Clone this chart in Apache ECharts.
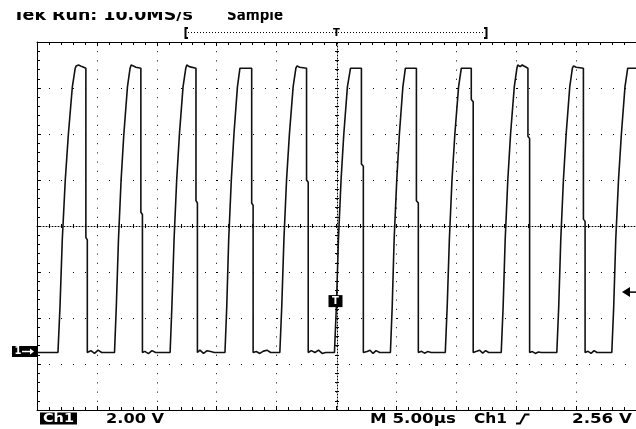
<!DOCTYPE html>
<html><head><meta charset="utf-8">
<script src="https://cdn.jsdelivr.net/npm/echarts/dist/echarts.min.js"></script>
<style>html,body{margin:0;padding:0;background:#fff}#c{width:636px;height:429px}</style>
</head><body><div id="c"></div><script>
// ---- data (time in µs, Ch1 in volts) ----
const timeUs = [
 -25, -23.25, -23.08, -22.89, -22.64, -22.38, -22.05, -21.81, -21.73, -21.53, -21.25, -21.11, -20.92, -20.92, -20.8, -20.8, -20.5, -20.2, -19.9, -19.6, -18.53,
 -18.38, -18.2, -17.98, -17.75, -17.45, -17.23, -17.14, -16.96, -16.75, -16.33, -16.33, -16.2, -16.2, -16.0, -15.7, -15.4, -15.1, -13.89,
 -13.74, -13.56, -13.34, -13.11, -12.81, -12.58, -12.5, -12.29, -12.17, -11.73, -11.73, -11.61, -11.61, -11.4, -11.1, -10.8, -10.5, -10.2, -9.31,
 -9.16, -9.0, -8.78, -8.56, -8.27, -8.06, -7.96, -7.08, -7.08, -6.96, -6.96, -6.7, -6.4, -6.1, -5.8, -5.5, -4.73,
 -4.57, -4.39, -4.17, -3.93, -3.62, -3.39, -3.29, -3.08, -2.92, -2.5, -2.5, -2.36, -2.36, -2.1, -1.8, -1.5, -1.2, -0.9, -0.17,
 -0.01, 0.16, 0.38, 0.61, 0.91, 1.17, 2.08, 2.08, 2.24, 2.24, 2.55, 2.8, 3.05, 3.3, 3.6, 4.5,
 4.65, 4.81, 5.03, 5.25, 5.54, 5.75, 6.67, 6.67, 6.83, 6.83, 7.1, 7.35, 7.6, 7.9, 9.08,
 9.24, 9.42, 9.64, 9.88, 10.19, 10.42, 11.25, 11.25, 11.41, 11.41, 11.7, 11.95, 12.2, 12.45, 12.7, 13.75,
 13.91, 14.08, 14.3, 14.53, 14.84, 15.06, 15.13, 15.33, 15.5, 15.98, 15.98, 16.12, 16.12, 16.35, 16.6, 16.85, 17.1, 18.39,
 18.55, 18.72, 18.94, 19.17, 19.47, 19.69, 19.79, 20.0, 20.61, 20.61, 20.75, 20.75, 21.0, 21.25, 21.5, 21.75, 22.98,
 23.14, 23.31, 23.54, 23.78, 24.08, 24.31, 25
];
const volts = [
 0, 0, 2.0, 4.9, 7.5, 9.5, 11.55, 12.36, 12.46, 12.5, 12.43, 12.36, 12.36, 5.0, 4.9, 0, 0.08, -0.04, 0.1, 0, 0,
 2.0, 4.9, 7.5, 9.5, 11.55, 12.36, 12.5, 12.46, 12.4, 12.36, 6.1, 6.0, 0, 0.05, -0.05, 0.08, 0, 0,
 2.0, 4.9, 7.5, 9.5, 11.55, 12.36, 12.5, 12.43, 12.5, 12.36, 6.6, 6.5, 0, 0.1, -0.04, 0.08, 0.04, 0, 0,
 2.0, 4.9, 7.5, 9.5, 11.55, 12.36, 12.4, 12.36, 6.5, 6.4, 0, 0.04, -0.04, 0.06, 0.1, 0, 0,
 2.0, 4.9, 7.5, 9.5, 11.55, 12.36, 12.46, 12.4, 12.46, 12.36, 7.5, 7.4, 0, 0.08, 0, 0.1, -0.04, 0, 0,
 2.0, 4.9, 7.5, 9.5, 11.55, 12.36, 12.36, 8.2, 8.1, 0, 0.04, 0.1, -0.04, 0.08, 0, 0,
 2.0, 4.9, 7.5, 9.5, 11.55, 12.36, 12.36, 6.6, 6.5, 0, 0.05, -0.03, 0.04, 0, 0,
 2.0, 4.9, 7.5, 9.5, 11.55, 12.36, 12.36, 11.0, 10.9, 0, 0.05, 0.1, -0.03, 0.08, 0, 0,
 2.0, 4.9, 7.5, 9.5, 11.55, 12.36, 12.5, 12.43, 12.5, 12.36, 9.4, 9.3, 0, 0.04, -0.04, 0.02, 0, 0,
 2.0, 4.9, 7.5, 9.5, 11.55, 12.36, 12.46, 12.4, 12.36, 5.8, 5.7, 0, 0.05, -0.04, 0.08, 0, 0,
 2.0, 4.9, 7.5, 9.5, 11.55, 12.36, 12.36
];
const timeRange = [-25, 25];      // 5 µs/div, 10 div
const voltRange = [-2.5, 13.5];   // 2 V/div, 8 div, ground 2.75 div below centre
const divX = [-5, 5];
const divY = [-4, 4];
const triggerTime = 0;
const triggerLevel = 2.56;
const groundLevel = 0;
const headerTexts = ['Tek Run: 10.0MS/s', 'Sample'];
const footerTexts = ['Ch1', '2.00 V', 'M 5.00µs', 'Ch1', '2.56 V'];

const trace = timeUs.map((t, i) => [t, volts[i]]);

const chart = echarts.init(document.getElementById('c'), null, {renderer: 'canvas'});
const BLK = '#000';
function gratX(pos, offset, opts) {
  return Object.assign({
    type: 'value', gridIndex: 0, min: divX[0], max: divX[1], interval: 1, position: pos, offset: offset,
    axisLine: {show: true, onZero: false, lineStyle: {color: BLK, width: 1}},
    axisTick: {show: true, inside: true, length: 4, lineStyle: {color: BLK}},
    minorTick: {show: true, splitNumber: 5, length: 3, lineStyle: {color: BLK}},
    axisLabel: {show: false}, splitLine: {show: false}
  }, opts || {});
}
function gratY(pos, offset, opts) {
  return Object.assign({
    type: 'value', gridIndex: 0, min: divY[0], max: divY[1], interval: 1, position: pos, offset: offset,
    axisLine: {show: true, onZero: false, lineStyle: {color: BLK, width: 1}},
    axisTick: {show: true, inside: true, length: 4, lineStyle: {color: BLK}},
    minorTick: {show: true, splitNumber: 5, length: 3, lineStyle: {color: BLK}},
    axisLabel: {show: false}, splitLine: {show: false}
  }, opts || {});
}
const centreTicks = {
  axisTick: {show: true, inside: true, length: 2, lineStyle: {color: BLK}},
  minorTick: {show: true, splitNumber: 5, length: 2, lineStyle: {color: BLK}}
};
const option = {
  animation: false,
  backgroundColor: '#fff',
  grid: {left: 37, top: 42, width: 600, height: 368, containLabel: false},
  xAxis: [
    {type: 'value', gridIndex: 0, min: timeRange[0], max: timeRange[1], show: false},
    gratX('bottom', 0, {splitLine: {show: true, lineStyle: {color: BLK, width: 1, type: [1, 8.2]}}}),
    gratX('top', 0),
    gratX('bottom', -184, Object.assign({axisLine: {show: true, onZero: false, lineStyle: {color: BLK, width: 1, type: [1, 2]}}}, centreTicks)),
    gratX('top', -184, Object.assign({axisLine: {show: false}}, centreTicks))
  ],
  yAxis: [
    {type: 'value', gridIndex: 0, min: voltRange[0], max: voltRange[1], show: false},
    gratY('left', 0, {splitLine: {show: true, lineStyle: {color: BLK, width: 1, type: [1, 11]}}}),
    gratY('left', -300, Object.assign({axisLine: {show: true, onZero: false, lineStyle: {color: BLK, width: 1, type: [1, 2]}}}, centreTicks)),
    gratY('right', -300, Object.assign({axisLine: {show: false}}, centreTicks))
  ],
  series: [{
    type: 'line', xAxisIndex: 0, yAxisIndex: 0, data: trace, showSymbol: false, symbol: 'none',
    lineStyle: {color: '#111', width: 1.6}, z: 5, silent: true
  }]
};
chart.setOption(option);

// ---- annotations placed through the chart's own scales ----
const gnd = chart.convertToPixel({seriesIndex: 0}, [timeRange[0], groundLevel]);
const trg = chart.convertToPixel({seriesIndex: 0}, [triggerTime, triggerLevel]);
const trgR = chart.convertToPixel({seriesIndex: 0}, [timeRange[1], triggerLevel]);

const mctx = document.createElement('canvas').getContext('2d');
function sx(text, font, w) { mctx.font = font; return w / mctx.measureText(text).width; }
function txt(text, x, y, font, w, fill, z) {
  return {type: 'text', x: x, y: y, scaleX: sx(text, font, w), z: z || 100,
    style: {text: text, font: font, fill: fill || BLK, align: 'left', verticalAlign: 'middle'}};
}
const HF = 'bold 15px "DejaVu Sans"';
const FF = 'bold 14px "DejaVu Sans"';
const gy = gnd[1] - 1;
const graphics = [
  txt(headerTexts[0], 13, 16, HF, 180),
  txt(headerTexts[1], 227, 16, HF, 56),
  {type: 'rect', z: 101, shape: {x: 0, y: 0, width: 320, height: 12}, style: {fill: '#fff'}},
  // record-window bracket
  {type: 'polyline', z: 100, shape: {points: [[188, 28], [185.5, 28], [185.5, 38], [188, 38]]}, style: {stroke: BLK, lineWidth: 2, fill: null}},
  {type: 'polyline', z: 100, shape: {points: [[484, 28], [486.5, 28], [486.5, 38], [484, 38]]}, style: {stroke: BLK, lineWidth: 2, fill: null}},
  {type: 'line', z: 100, shape: {x1: 188, y1: 32.5, x2: 484, y2: 32.5}, style: {stroke: BLK, lineWidth: 1, lineDash: [1, 2]}},
  {type: 'text', z: 100, x: trg[0], y: 33, style: {text: 'T', font: 'bold 10px "DejaVu Sans"', fill: BLK, align: 'center', verticalAlign: 'middle'}},
  // ground marker "1→"
  {type: 'rect', z: 100, shape: {x: gnd[0] - 25, y: gy - 5.5, width: 25, height: 11}, style: {fill: BLK}},
  {type: 'text', z: 105, x: gnd[0] - 22.5, y: gy, style: {text: '1', font: 'bold 10px "DejaVu Sans"', fill: '#fff', align: 'left', verticalAlign: 'middle'}},
  {type: 'line', z: 105, shape: {x1: gnd[0] - 15, y1: gy, x2: gnd[0] - 6, y2: gy}, style: {stroke: '#fff', lineWidth: 1.5}},
  {type: 'polygon', z: 105, shape: {points: [[gnd[0] - 3, gy], [gnd[0] - 7, gy - 3], [gnd[0] - 7, gy + 3]]}, style: {fill: '#fff'}},
  // trigger position marker
  {type: 'rect', z: 100, shape: {x: trg[0] - 8, y: trg[1] + 1.5, width: 14, height: 12}, style: {fill: BLK}},
  {type: 'text', z: 105, x: trg[0] - 1, y: trg[1] + 7.5, style: {text: 'T', font: 'bold 10px "DejaVu Sans"', fill: '#fff', align: 'center', verticalAlign: 'middle'}},
  // trigger level arrow
  {type: 'polygon', z: 100, shape: {points: [[trgR[0] - 14, trgR[1] - 1.5], [trgR[0] - 6, trgR[1] - 6.5], [trgR[0] - 6, trgR[1] + 3.5]]}, style: {fill: BLK}},
  {type: 'line', z: 100, shape: {x1: trgR[0] - 7, y1: trgR[1] - 1.5, x2: 636, y2: trgR[1] - 1.5}, style: {stroke: BLK, lineWidth: 1.5}},
  // footer
  {type: 'rect', z: 100, shape: {x: 40, y: 412.5, width: 37, height: 12}, style: {fill: BLK}},
  txt(footerTexts[0], 43, 419, 'bold 12px "DejaVu Sans"', 31, '#fff', 105),
  txt(footerTexts[1], 106, 419.5, FF, 58),
  txt(footerTexts[2], 370, 419.5, FF, 86),
  txt(footerTexts[3], 474, 419.5, FF, 33),
  {type: 'polyline', z: 100, shape: {points: [[516, 423.5], [520, 423.5], [525, 414.5], [529.5, 414.5]]}, style: {stroke: BLK, lineWidth: 2, fill: null}},
  txt(footerTexts[4], 572, 419.5, FF, 60)
];
chart.setOption({graphic: graphics});
</script></body></html>
